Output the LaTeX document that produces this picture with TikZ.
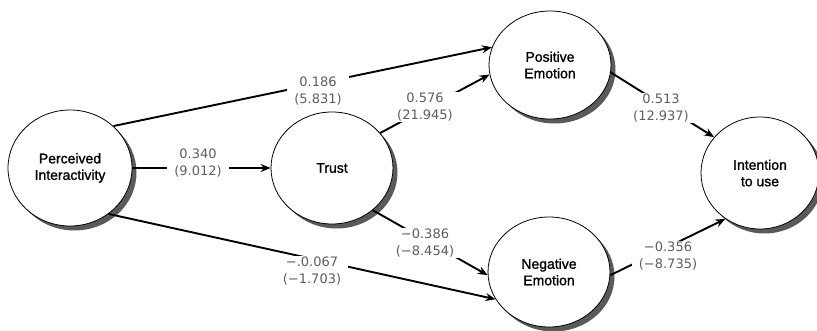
\documentclass[tikz,border=0pt]{standalone}
\usepackage{fontspec}
\setmainfont{DejaVu Sans}
\newfontfamily\nodefont[FakeBold=1.2]{Liberation Sans}
\usetikzlibrary{shapes.geometric,shadows,arrows.meta}
\definecolor{labgray}{HTML}{5E5E5E}
\definecolor{shadgray}{HTML}{5A5A5A}
\begin{document}
\begin{tikzpicture}[x=1pt,y=-1pt,
  var/.style={ellipse, draw=black, line width=0.8pt, fill=white,
    minimum width=122pt, minimum height=112pt, inner sep=0pt, align=center,
    font=\nodefont\fontsize{14}{16.5}\selectfont,
    drop shadow={shadow xshift=4.5pt, shadow yshift=-4.5pt, fill=shadgray, opacity=1}},
  conn/.style={line width=1.9pt, -{Stealth[length=10pt,width=8pt]}},
  coef/.style={fill=white, text=labgray, align=center, inner xsep=7pt,
    inner ysep=1pt, font=\fontsize{13}{17}\selectfont}
]
\useasboundingbox (0,0) rectangle (817,331);

\node[var, minimum width=124pt, minimum height=116pt] (pi) at (70,168) {Perceived\\Interactivity};
\node[var] (tr) at (332,168) {Trust};
\node[var, minimum height=108pt] (pe) at (550,65) {Positive\\Emotion};
\node[var, minimum height=110pt] (ne) at (549,272) {Negative\\Emotion};
\node[var, minimum width=118pt] (iu) at (760,173) {Intention\\to use};

\draw[conn] (pi.44) -- (pe.163);
\draw[conn] (pi.east) -- (tr.west);
\draw[conn] (pi.-50) -- (ne.207);
\draw[conn] (tr.36) -- (pe.189);
\draw[conn] (tr.-46) -- (ne.183);
\draw[conn] (pe.-7) -- (iu.142);
\draw[conn] (ne.-3) -- (iu.233);

\node[coef] (c1) at (318,91) {0.186\\(5.831)};
\node[coef] (c2) at (198,163) {0.340\\(9.012)};
\node[coef] (c3) at (312,271) {−.0.067\\(−1.703)};
\node[coef] (c4) at (425,107) {0.576\\(21.945)};
\node[coef] (c5) at (425,243) {−0.386\\(−8.454)};
\node[coef] (c6) at (661,108) {0.513\\(12.937)};
\node[coef] (c7) at (668,256) {−0.356\\(−8.735)};
\end{tikzpicture}
\end{document}
